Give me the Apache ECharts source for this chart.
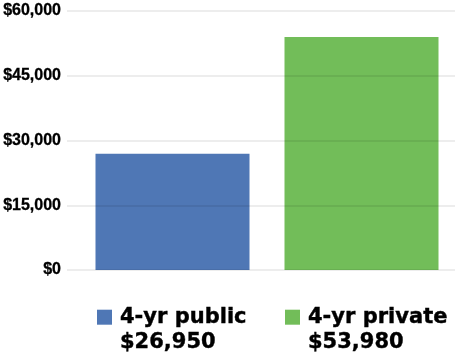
<!DOCTYPE html>
<html>
<head>
<meta charset="utf-8">
<script src="https://cdn.jsdelivr.net/npm/echarts@6/dist/echarts.min.js"></script>
<style>
  html, body { margin: 0; padding: 0; background: #fff; }
  #main { width: 460px; height: 352px; }
</style>
</head>
<body>
<div id="main"></div>
<script>
// Chart data
var categories = ['4-yr public', '4-yr private'];
var values = [26950, 53980];
var colors = ['#4f77b5', '#72bd59'];
var yTicks = { min: 0, max: 60000, interval: 15000 };

var myChart = echarts.init(document.getElementById('main'));

function money(v) {
    return '$' + v.toLocaleString('en-US');
}

// one series per category so each gets its own legend entry
var series = categories.map(function (name, i) {
    return {
        name: name,
        type: 'bar',
        xAxisIndex: 0,
        yAxisIndex: 0,
        barWidth: 154,
        barGap: '-100%',
        z: 2,
        itemStyle: { color: colors[i] },
        data: values.map(function (v, j) { return j === i ? v : '-'; })
    };
});

// legend icon: square at the top, padded down to the height of two text lines
var legendIcon = 'path://M0,0h15v15h-15z M0,41';

var legends = categories.map(function (name, i) {
    return {
        data: [name],
        left: [97, 285][i],
        top: 307,
        padding: 0,
        selectedMode: false,
        icon: legendIcon,
        itemWidth: 15,
        itemHeight: 41,
        formatter: function (n) {
            return '{n|' + n + '}\n{n|' + money(values[categories.indexOf(n)]) + '}';
        },
        textStyle: {
            rich: {
                n: {
                    fontFamily: 'DejaVu Sans',
                    fontWeight: 'bold',
                    fontSize: 21,
                    lineHeight: 25,
                    padding: [0, 0, 0, 3],
                    color: '#000',
                    textBorderColor: '#000',
                    textBorderWidth: 0.4
                }
            }
        }
    };
});

var option = {
    animation: false,
    backgroundColor: '#fff',
    grid: [
        { left: 78, right: 4, top: 11, bottom: 82 },
        { left: 66, right: 5, top: 11, bottom: 82 }
    ],
    legend: legends,
    xAxis: [
        { type: 'category', gridIndex: 0, data: categories, show: false },
        { type: 'value', gridIndex: 1, show: false }
    ],
    yAxis: [
        {
            type: 'value', gridIndex: 0,
            min: yTicks.min, max: yTicks.max, interval: yTicks.interval,
            show: false
        },
        {
            type: 'value', gridIndex: 1,
            min: yTicks.min, max: yTicks.max, interval: yTicks.interval,
            z: 5,
            axisLine: { show: false },
            axisTick: { show: false },
            axisLabel: {
                margin: 6,
                color: '#000',
                fontFamily: 'Liberation Sans',
                fontWeight: 'bold',
                fontSize: 16,
                textBorderColor: '#000',
                textBorderWidth: 0.3,
                formatter: money
            },
            splitLine: { lineStyle: { color: 'rgba(0,0,0,0.07)', width: 2 } }
        }
    ],
    series: series
};

myChart.setOption(option);
</script>
</body>
</html>
